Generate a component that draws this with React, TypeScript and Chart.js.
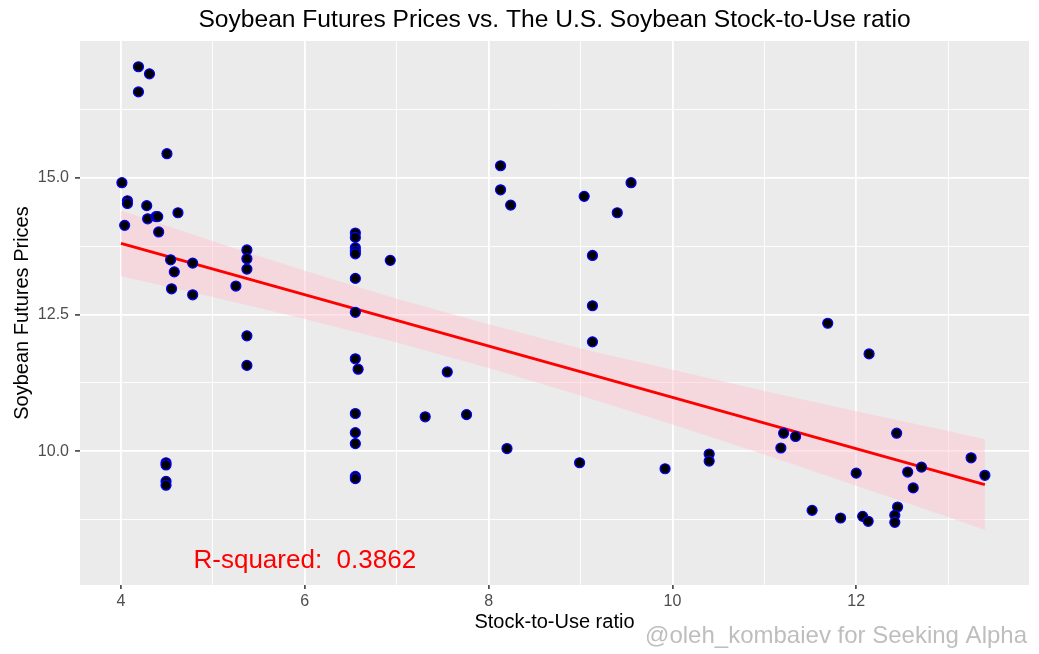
import { useEffect, useRef } from "react";
import { Chart, registerables } from "chart.js";

Chart.register(...registerables);

// ---- data ----
const stockToUse = [
  4.19, 4.31, 4.19, 4.5, 4.01, 4.07, 4.07, 4.28, 4.29, 4.38, 4.4, 4.62, 4.04, 4.41, 4.54, 4.78, 4.58, 4.55, 4.78,
  5.37, 5.37, 5.37, 5.25, 6.55, 6.55, 6.55, 6.55, 6.55, 6.93, 6.55, 6.55, 5.37, 5.37, 6.55, 6.58, 6.55, 6.55, 6.55,
  6.55, 6.55, 4.49, 4.49, 4.49, 4.49, 8.13, 8.13, 8.24, 9.04, 9.55, 9.4, 9.13, 9.13, 9.13, 7.55, 7.31, 7.76, 8.2,
  8.99, 9.92, 11.69, 12.14, 10.4, 10.4, 11.21, 11.34, 11.18, 12.44, 13.25, 13.4, 12.0, 12.56, 12.71, 12.62, 11.52,
  11.83, 12.07, 12.13, 12.45, 12.42, 12.42,
];
const futuresPrice = [
  17.03, 16.9, 16.57, 15.44, 14.91, 14.58, 14.53, 14.49, 14.25, 14.29, 14.29, 14.36, 14.13, 14.01, 13.5, 13.44, 13.28,
  12.97, 12.86, 13.68, 13.52, 13.33, 13.02, 13.99, 13.91, 13.72, 13.66, 13.61, 13.49, 13.16, 12.54, 12.11, 11.57,
  11.69, 11.5, 10.69, 10.34, 10.14, 9.54, 9.5, 9.79, 9.75, 9.45, 9.38, 15.22, 14.78, 14.5, 14.66, 14.91, 14.36, 13.58,
  12.66, 12.0, 11.45, 10.63, 10.67, 10.05, 9.79, 9.68, 12.34, 11.78, 9.95, 9.82, 10.33, 10.27, 10.06, 10.33, 9.88,
  9.56, 9.6, 9.62, 9.71, 9.33, 8.92, 8.78, 8.81, 8.72, 8.98, 8.83, 8.7,
];

const fitX = [4.0, 13.4];
const fitY = [13.8, 9.39];

const bandX = [4, 5, 6, 7, 8, 9, 10, 11, 12, 13, 13.4];
const bandUpper = [14.4, 13.84, 13.3, 12.79, 12.32, 11.88, 11.49, 11.1, 10.73, 10.37, 10.22];
const bandLower = [13.2, 12.82, 12.42, 11.99, 11.52, 11.02, 10.49, 9.94, 9.37, 8.8, 8.56];

const xMajorTicks = [4, 6, 8, 10, 12];
const xMinorTicks = [5, 7, 9, 11, 13];
const yMajorTicks = [10, 12.5, 15];
const yMinorTicks = [8.75, 11.25, 13.75, 16.25];

const chartTitle = "Soybean Futures Prices vs. The U.S. Soybean Stock-to-Use ratio";
const xTitle = "Stock-to-Use ratio";
const yTitle = "Soybean Futures Prices";
const rSquaredLabel = "R-squared:  0.3862";
const rSquaredPos = { x: 6.0, y: 8.0 };
const watermark = "@oleh_kombaiev for Seeking Alpha";

const FONT = "'Liberation Sans', Arial, Helvetica, sans-serif";

const isMajorX = (v: number) => xMajorTicks.some((t) => Math.abs(t - v) < 1e-6);
const isMajorY = (v: number) => yMajorTicks.some((t) => Math.abs(t - v) < 1e-6);

const panelPlugin = {
  id: "panelPlugin",
  beforeDraw(chart: any) {
    const { ctx, chartArea } = chart;
    ctx.save();
    ctx.fillStyle = "#FFFFFF";
    ctx.fillRect(0, 0, chart.width, chart.height);
    ctx.fillStyle = "#EBEBEB";
    ctx.fillRect(chartArea.left, chartArea.top, chartArea.right - chartArea.left, chartArea.bottom - chartArea.top);
    ctx.restore();
  },
  afterDatasetsDraw(chart: any) {
    const { ctx, scales } = chart;
    ctx.save();
    ctx.fillStyle = "#FF0000";
    ctx.font = `26px ${FONT}`;
    ctx.textAlign = "center";
    ctx.textBaseline = "middle";
    ctx.fillText(rSquaredLabel, scales.x.getPixelForValue(rSquaredPos.x), scales.y.getPixelForValue(rSquaredPos.y));
    ctx.restore();
  },
  afterDraw(chart: any) {
    const { ctx } = chart;
    ctx.save();
    ctx.fillStyle = "#BEBEBE";
    ctx.font = `24px ${FONT}`;
    ctx.textAlign = "right";
    ctx.textBaseline = "middle";
    ctx.fillText(watermark, chart.width - 12, 636);
    ctx.restore();
  },
};

export default function App() {
  const ref = useRef<HTMLCanvasElement>(null);

  useEffect(() => {
    document.body.style.margin = "0";
    Chart.defaults.font.family = FONT;
    const points = stockToUse.map((x, i) => ({ x, y: futuresPrice[i] }));
    const fit = fitX.map((x, i) => ({ x, y: fitY[i] }));
    const upper = bandX.map((x, i) => ({ x, y: bandUpper[i] }));
    const lower = bandX.map((x, i) => ({ x, y: bandLower[i] }));

    const chart = new Chart(ref.current as HTMLCanvasElement, {
      type: "scatter",
      data: {
        datasets: [
          {
            data: points,
            backgroundColor: "#000000",
            borderColor: "#0000FF",
            borderWidth: 1.2,
            pointRadius: 5,
            order: 0,
          } as any,
          {
            type: "line",
            data: fit,
            borderColor: "#FF0000",
            borderWidth: 3,
            pointRadius: 0,
            fill: false,
            order: 1,
          } as any,
          {
            type: "line",
            data: upper,
            borderColor: "rgba(0,0,0,0)",
            borderWidth: 0,
            pointRadius: 0,
            backgroundColor: "rgba(255,192,203,0.45)",
            fill: "+1",
            order: 2,
          } as any,
          {
            type: "line",
            data: lower,
            borderColor: "rgba(0,0,0,0)",
            borderWidth: 0,
            pointRadius: 0,
            fill: false,
            order: 3,
          } as any,
        ],
      },
      options: {
        responsive: false,
        animation: false,
        events: [],
        layout: { padding: { left: 0, right: 10, top: 0, bottom: 0 } },
        plugins: {
          legend: { display: false },
          tooltip: { enabled: false },
          title: {
            display: true,
            text: chartTitle,
            fullSize: false,
            color: "#000000",
            font: { size: 24.6, weight: "normal", family: FONT },
            padding: { top: 5.5, bottom: 6 },
          },
        },
        scales: {
          x: {
            type: "linear",
            min: 3.554,
            max: 13.88,
            afterBuildTicks: (scale: any) => {
              scale.ticks = [...xMajorTicks, ...xMinorTicks].sort((a, b) => a - b).map((v) => ({ value: v }));
            },
            afterFit: (scale: any) => {
              scale.height = 69;
            },
            border: { display: false },
            grid: {
              color: "#FFFFFF",
              lineWidth: (c: any) => (isMajorX(c.tick.value) ? 1.8 : 0.9),
              tickColor: (c: any) => (isMajorX(c.tick.value) ? "#333333" : "rgba(0,0,0,0)"),
              tickLength: 4,
              tickWidth: 1.5,
            },
            ticks: {
              autoSkip: false,
              maxRotation: 0,
              color: "#4D4D4D",
              font: { size: 16, family: FONT },
              padding: 3,
              callback: (v: any) => (isMajorX(Number(v)) ? String(v) : ""),
            },
            title: {
              display: true,
              text: xTitle,
              color: "#000000",
              font: { size: 20, family: FONT },
              padding: { top: 0, bottom: 20 },
            },
          },
          y: {
            type: "linear",
            min: 7.555,
            max: 17.5,
            afterBuildTicks: (scale: any) => {
              scale.ticks = [...yMajorTicks, ...yMinorTicks].sort((a, b) => a - b).map((v) => ({ value: v }));
            },
            afterFit: (scale: any) => {
              scale.width = 80;
            },
            border: { display: false },
            grid: {
              color: "#FFFFFF",
              lineWidth: (c: any) => (isMajorY(c.tick.value) ? 1.8 : 0.9),
              tickColor: (c: any) => (isMajorY(c.tick.value) ? "#333333" : "rgba(0,0,0,0)"),
              tickLength: 5,
              tickWidth: 1.5,
            },
            ticks: {
              autoSkip: false,
              color: "#4D4D4D",
              font: { size: 16, family: FONT },
              padding: 6,
              callback: (v: any) => (isMajorY(Number(v)) ? Number(v).toFixed(1) : ""),
            },
            title: {
              display: true,
              text: yTitle,
              color: "#000000",
              font: { size: 20, family: FONT },
              padding: { top: 10, bottom: 0 },
            },
          },
        },
      },
      plugins: [panelPlugin],
    } as any);

    return () => chart.destroy();
  }, []);

  return (
    <div style={{ width: 1039, height: 654 }}>
      <canvas ref={ref} width={1039} height={654} style={{ display: "block" }} />
    </div>
  );
}
